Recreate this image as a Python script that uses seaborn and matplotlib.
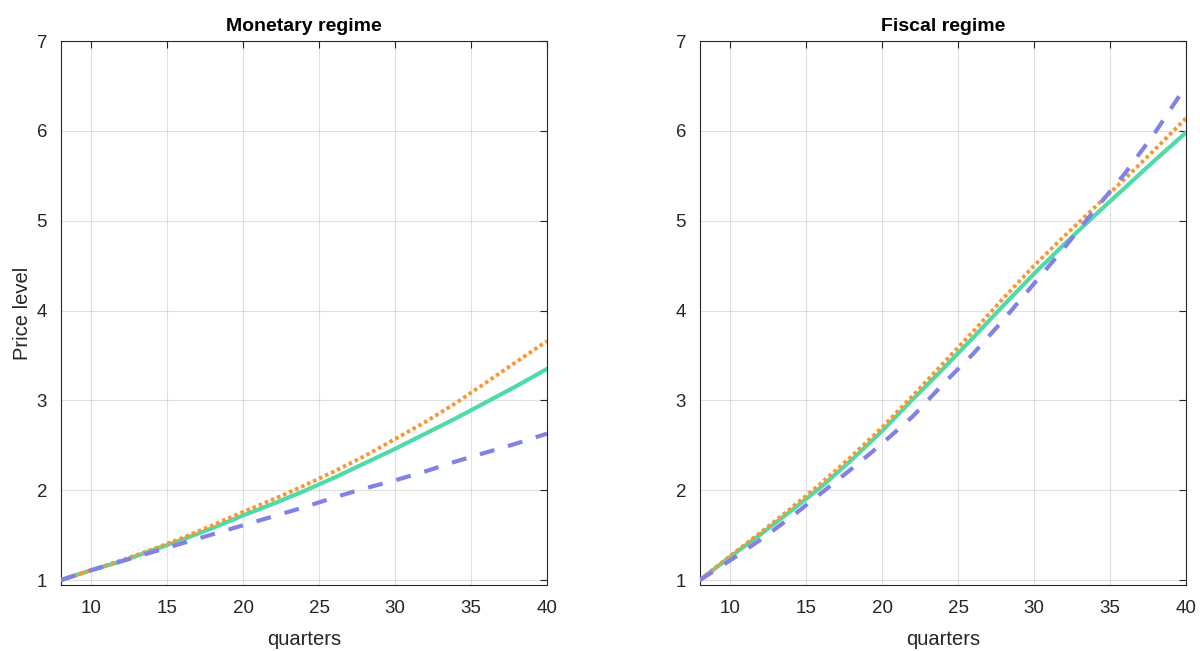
import numpy as np
import pandas as pd
import matplotlib
matplotlib.use('Agg')
import matplotlib.pyplot as plt
import seaborn as sns

# quarters shown on the x axis
quarters = [8, 10, 12, 14, 16, 18, 20, 22, 24, 26, 28, 30, 32, 34, 36, 38, 40]

# Monetary regime price level paths
mon_solid = [1.00, 1.11, 1.21, 1.33, 1.45, 1.58, 1.72, 1.85, 1.99, 2.14, 2.30, 2.46, 2.63, 2.80, 2.98, 3.16, 3.35]
mon_dotted = [1.00, 1.11, 1.22, 1.34, 1.47, 1.61, 1.76, 1.90, 2.05, 2.21, 2.38, 2.57, 2.76, 2.97, 3.20, 3.43, 3.66]
mon_dashed = [1.00, 1.11, 1.21, 1.31, 1.41, 1.51, 1.61, 1.71, 1.81, 1.92, 2.02, 2.11, 2.21, 2.32, 2.42, 2.52, 2.63]

# Fiscal regime price level paths
fis_solid = [1.00, 1.26, 1.51, 1.77, 2.04, 2.34, 2.66, 3.01, 3.35, 3.70, 4.06, 4.41, 4.74, 5.06, 5.37, 5.68, 5.98]
fis_dotted = [1.00, 1.27, 1.53, 1.80, 2.08, 2.38, 2.70, 3.05, 3.41, 3.77, 4.14, 4.50, 4.83, 5.15, 5.47, 5.80, 6.14]
fis_dashed = [1.00, 1.22, 1.45, 1.70, 1.97, 2.24, 2.52, 2.82, 3.18, 3.52, 3.90, 4.30, 4.70, 5.12, 5.53, 5.99, 6.50]

titles = ['Monetary regime', 'Fiscal regime']

sns.set_style('white')
plt.rcParams['font.family'] = ['Liberation Sans', 'DejaVu Sans']

green = '#50DAA8'
orange = '#FA9632'
blue = '#8282E6'
axcol = '#262626'

fig = plt.figure(figsize=(12, 6.51), dpi=100)
ax1 = fig.add_axes([0.0508, 0.1014, 0.405, 0.8356])
ax2 = fig.add_axes([0.5833, 0.1014, 0.405, 0.8356])

panels = [(ax1, mon_solid, mon_dotted, mon_dashed),
          (ax2, fis_solid, fis_dotted, fis_dashed)]

for i, (ax, s, d, ds) in enumerate(panels):
    sns.lineplot(x=quarters, y=s, ax=ax, color=green, linewidth=3.0, zorder=3)
    sns.lineplot(x=quarters, y=d, ax=ax, color=orange, linewidth=2.8,
                 linestyle=(0, (0.9, 0.8)), zorder=4)
    sns.lineplot(x=quarters, y=ds, ax=ax, color=blue, linewidth=3.0,
                 linestyle=(0, (3.6, 3.4)), zorder=5)
    ax.set_xlim(8, 40)
    ax.set_ylim(0.945, 7)
    ax.set_xticks([10, 15, 20, 25, 30, 35, 40])
    ax.set_yticks([1, 2, 3, 4, 5, 6, 7])
    ax.grid(True, color='#000000', alpha=0.12, linewidth=0.8)
    ax.tick_params(direction='in', length=5, width=0.8, colors=axcol,
                   labelsize=13.5, top=True, right=True, labelcolor=axcol)
    ax.tick_params(axis='x', pad=11)
    ax.tick_params(axis='y', pad=10)
    for sp in ax.spines.values():
        sp.set_color(axcol)
        sp.set_linewidth(0.8)
        sp.set_visible(True)
    ax.set_xlabel('quarters', fontsize=14.5, color=axcol, labelpad=9)
    ax.set_title(titles[i], fontsize=14, fontweight='bold', color='black', pad=7)

ax1.set_ylabel('Price level', fontsize=14.5, color=axcol, labelpad=3)

fig.savefig('out.png', dpi=100)
